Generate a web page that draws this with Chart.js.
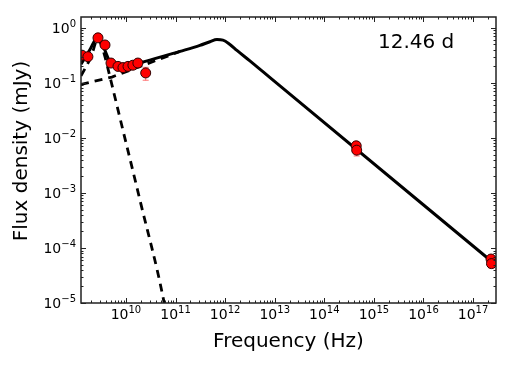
<!DOCTYPE html>
<html>
<head>
<meta charset="utf-8">
<script src="https://cdn.jsdelivr.net/npm/chart.js@4.4.1/dist/chart.umd.min.js"></script>
<style>
  html, body { margin: 0; padding: 0; background: #fff; }
</style>
</head>
<body>
<canvas id="sedChart" width="512" height="373"></canvas>
<script>
// observed points (Hz, mJy)
const obsFreq = [1.29e9, 1.71e9, 2.73e9, 3.78e9, 4.99e9, 6.9e9, 8.7e9, 1.1e10, 1.38e10, 1.74e10, 2.5e10, 4.4e14, 4.5e14, 2.3e17, 2.35e17];
const obsFlux = [0.32, 0.30, 0.66, 0.49, 0.23, 0.20, 0.19, 0.20, 0.21, 0.23, 0.152, 7.2e-3, 6.0e-3, 6.3e-5, 5.2e-5];
const obsErr = [0.03, 0.03, 0.04, 0.03, 0.015, 0.015, 0.015, 0.015, 0.015, 0.02, 0.04, 1.3e-3, 1.3e-3, 1.0e-5, 0.9e-5];

// total model (solid)
const modelFreq = [1.24e9, 1.87e9, 2.7e9, 3.6e9, 4.77e9, 6.3e9, 7.8e9, 1.1e10, 1.92e10, 1.23e11, 3.1e11, 4.94e11, 6.84e11, 9.04e11, 1.25e12, 1.73e12, 3.16e12, 5.78e12, 1.11e13, 2.9e17];
const modelFlux = [0.22, 0.40, 0.68, 0.43, 0.24, 0.195, 0.187, 0.195, 0.23, 0.374, 0.481, 0.561, 0.615, 0.600, 0.501, 0.39, 0.251, 0.160, 0.098, 4.9e-5];

// first component (dashed)
const comp1Freq = [1.24e9, 1.97e9, 2.73e9, 3.13e9, 3.78e9, 4.77e9, 7.57e9, 1.91e10, 5.9e10, 6.3e10];
const comp1Flux = [0.134, 0.297, 0.63, 0.51, 0.297, 0.128, 0.0231, 7.5e-4, 1e-5, 7e-6];

// second component (dashed, runs under the solid line above ~1e11 Hz)
const comp2Freq = [1.24e9, 5.2e9, 1.23e11];
const comp2Flux = [0.094, 0.128, 0.374];

const xTickExps = [10, 11, 12, 13, 14, 15, 16, 17];
const yTickExps = [-5, -4, -3, -2, -1, 0];
const epochLabel = '12.46 d';

function pairs(xs, ys) {
    return xs.map(function (x, i) { return { x: x, y: ys[i] }; });
}

function expText(e) {
    return e < 0 ? '\u2212' + Math.abs(e) : String(e);
}

function drawPow(ctx, x, baseY, e, align) {
    ctx.font = '14px "DejaVu Sans"';
    const wb = ctx.measureText('10').width;
    ctx.font = '10px "DejaVu Sans"';
    const we = ctx.measureText(expText(e)).width;
    const total = wb + we;
    const start = align === 'center' ? x - total / 2 : x - total;
    ctx.textAlign = 'left';
    ctx.textBaseline = 'alphabetic';
    ctx.font = '14px "DejaVu Sans"';
    ctx.fillText('10', start, baseY);
    ctx.font = '10px "DejaVu Sans"';
    ctx.fillText(expText(e), start + wb, baseY - 6);
}

const axesPlugin = {
    id: 'axesPlugin',
    beforeDatasetsDraw(chart) {
        const ctx = chart.ctx;
        const xs = chart.scales.x, ys = chart.scales.y;
        const a = chart.chartArea;
        ctx.save();
        ctx.beginPath();
        ctx.rect(a.left, a.top, a.right - a.left, a.bottom - a.top);
        ctx.clip();
        ctx.strokeStyle = 'rgba(255,0,0,0.55)';
        ctx.lineWidth = 1;
        obsFreq.forEach(function (f, i) {
            const px = xs.getPixelForValue(f);
            const y1 = ys.getPixelForValue(obsFlux[i] + obsErr[i]);
            const y2 = ys.getPixelForValue(obsFlux[i] - obsErr[i]);
            ctx.beginPath();
            ctx.moveTo(px, y1); ctx.lineTo(px, y2);
            ctx.moveTo(px - 3, y1); ctx.lineTo(px + 3, y1);
            ctx.moveTo(px - 3, y2); ctx.lineTo(px + 3, y2);
            ctx.stroke();
        });
        ctx.restore();
    },
    afterDraw(chart) {
        const ctx = chart.ctx;
        const xs = chart.scales.x, ys = chart.scales.y;
        const a = chart.chartArea;
        ctx.save();
        ctx.strokeStyle = '#222';
        ctx.lineWidth = 1;
        // tick marks, inward on all sides
        for (let d = 9; d <= 17; d++) {
            for (let m = 1; m <= 9; m++) {
                const v = m * Math.pow(10, d);
                if (v < xs.min || v > xs.max) continue;
                const px = Math.round(xs.getPixelForValue(v)) + 0.5;
                const len = m === 1 ? 5 : 2.5;
                ctx.beginPath();
                ctx.moveTo(px, a.bottom); ctx.lineTo(px, a.bottom - len);
                ctx.moveTo(px, a.top); ctx.lineTo(px, a.top + len);
                ctx.stroke();
            }
        }
        for (let d = -5; d <= 0; d++) {
            for (let m = 1; m <= 9; m++) {
                const v = m * Math.pow(10, d);
                if (v < ys.min || v > ys.max) continue;
                const py = Math.round(ys.getPixelForValue(v)) + 0.5;
                const len = m === 1 ? 5 : 2.5;
                ctx.beginPath();
                ctx.moveTo(a.left, py); ctx.lineTo(a.left + len, py);
                ctx.moveTo(a.right, py); ctx.lineTo(a.right - len, py);
                ctx.stroke();
            }
        }
        // frame
        ctx.lineWidth = 1.5;
        ctx.strokeStyle = '#222';
        ctx.strokeRect(a.left, a.top, a.right - a.left, a.bottom - a.top);

        // tick labels
        ctx.fillStyle = '#000';
        xTickExps.forEach(function (e) {
            drawPow(ctx, xs.getPixelForValue(Math.pow(10, e)), 319, e, 'center');
        });
        yTickExps.forEach(function (e) {
            drawPow(ctx, 76, ys.getPixelForValue(Math.pow(10, e)) + 5, e, 'right');
        });

        // axis titles
        ctx.font = '20px "DejaVu Sans"';
        ctx.textAlign = 'center';
        ctx.textBaseline = 'middle';
        ctx.fillText('Frequency (Hz)', (a.left + a.right) / 2, 342);
        ctx.save();
        ctx.translate(22, 151);
        ctx.rotate(-Math.PI / 2);
        ctx.fillText('Flux density (mJy)', 0, 0);
        ctx.restore();

        // epoch
        ctx.textAlign = 'left';
        ctx.fillText(epochLabel, 378, 43);
        ctx.restore();
    }
};

const ctx = document.getElementById('sedChart').getContext('2d');
new Chart(ctx, {
    type: 'scatter',
    data: {
        datasets: [
            {
                data: pairs(obsFreq, obsFlux),
                pointRadius: 5,
                pointBackgroundColor: '#ff0000',
                pointBorderColor: '#300000',
                pointBorderWidth: 1,
                showLine: false,
                clip: 0,
                order: 0
            },
            {
                data: pairs(modelFreq, modelFlux),
                showLine: true,
                borderColor: '#000',
                borderWidth: 3,
                cubicInterpolationMode: 'monotone',
                pointRadius: 0,
                order: 1
            },
            {
                data: pairs(comp1Freq, comp1Flux),
                showLine: true,
                borderColor: '#000',
                borderWidth: 2.8,
                borderDash: [8, 6],
                cubicInterpolationMode: 'monotone',
                pointRadius: 0,
                order: 2
            },
            {
                data: pairs(comp2Freq, comp2Flux),
                showLine: true,
                borderColor: '#000',
                borderWidth: 2.8,
                borderDash: [8, 6],
                pointRadius: 0,
                order: 3
            }
        ]
    },
    options: {
        responsive: false,
        animation: false,
        events: [],
        layout: { padding: { left: 81, right: 16, top: 17, bottom: 70 } },
        plugins: { legend: { display: false }, tooltip: { enabled: false } },
        scales: {
            x: { type: 'logarithmic', display: false, min: 1.24e9, max: 2.9e17 },
            y: { type: 'logarithmic', display: false, min: 1e-5, max: 1.58 }
        }
    },
    plugins: [axesPlugin]
});
</script>
</body>
</html>
